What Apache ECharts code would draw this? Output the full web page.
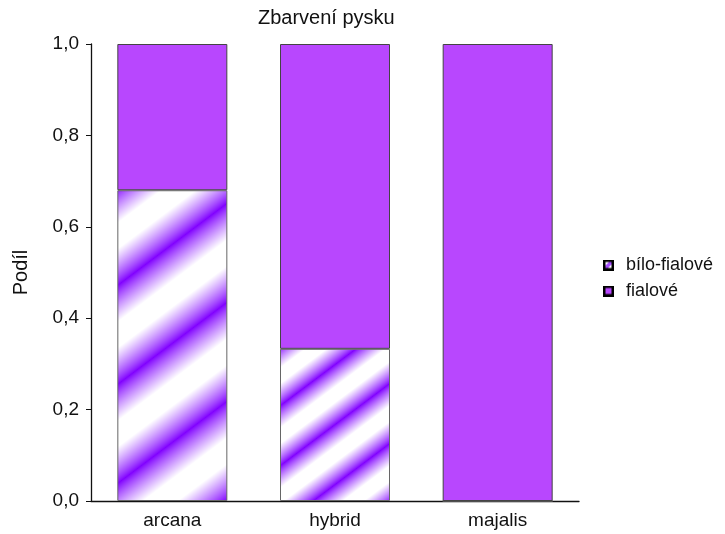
<!DOCTYPE html>
<html>
<head>
<meta charset="utf-8">
<script src="https://cdn.jsdelivr.net/npm/echarts@6/dist/echarts.min.js"></script>
<style>
  html, body { margin: 0; padding: 0; background: #fff; }
  #main { width: 725px; height: 534px; }
</style>
</head>
<body>
<div id="main"></div>
<script>
// data
const categories = ['arcana', 'hybrid', 'majalis'];
const biloFialove = [0.68, 0.333, 0];
const fialove = [0.32, 0.667, 1.0];
const seriesNames = ['bílo-fialové', 'fialové'];

const PURPLE = '#b847fe';
const STRIPE = [128, 0, 255];
const FONT = '"Liberation Sans", Arial, sans-serif';

// diagonal stripe tile, lines 3x + 4y = const, seamless for W = 4*vp/3, H = vp
function stripeTile(vp, c) {
  const w = Math.round(vp * 4 / 3), h = vp, P = 4 * vp;
  const cv = document.createElement('canvas');
  cv.width = w; cv.height = h;
  const ctx = cv.getContext('2d');
  const img = ctx.createImageData(w, h);
  for (let y = 0; y < h; y++) {
    for (let x = 0; x < w; x++) {
      let d = ((3 * x + 4 * y - c) % P + P) % P;
      let dist = Math.min(d, P - d) / P;
      let t = Math.pow(Math.min(1, dist / 0.37), 0.85);
      let k = (y * w + x) * 4;
      img.data[k] = STRIPE[0] + (255 - STRIPE[0]) * t;
      img.data[k + 1] = STRIPE[1] + (255 - STRIPE[1]) * t;
      img.data[k + 2] = 255;
      img.data[k + 3] = 255;
    }
  }
  ctx.putImageData(img, 0, 0);
  return cv;
}

function legendIcon(hatched) {
  const s = 22;
  const cv = document.createElement('canvas');
  cv.width = s; cv.height = s;
  const ctx = cv.getContext('2d');
  if (hatched) {
    ctx.fillStyle = '#fff';
    ctx.fillRect(0, 0, s, s);
    ctx.save();
    ctx.beginPath();
    ctx.rect(0, 0, s, s);
    ctx.clip();
    ctx.strokeStyle = '#a64dff';
    ctx.lineWidth = 7;
    ctx.beginPath();
    ctx.moveTo(0, s); ctx.lineTo(s, 0);
    ctx.stroke();
    ctx.restore();
  } else {
    ctx.fillStyle = PURPLE;
    ctx.fillRect(0, 0, s, s);
  }
  ctx.strokeStyle = '#000';
  ctx.lineWidth = 5;
  ctx.strokeRect(2.5, 2.5, s - 5, s - 5);
  return 'image://' + cv.toDataURL();
}

// per-bar stripe period and phase (arcana is taller, wider stripes)
const stripePeriods = [99, 60, 60];
const stripePhases = [1491, 2460, 0];

const chart = echarts.init(document.getElementById('main'));

const option = {
  animation: false,
  backgroundColor: '#fff',
  textStyle: { fontFamily: FONT },
  title: {
    text: 'Zbarvení pysku',
    left: 258,
    top: 8,
    padding: 0,
    textStyle: { fontFamily: FONT, fontSize: 20, fontWeight: 'normal', color: '#111' }
  },
  legend: {
    orient: 'vertical',
    left: 598,
    top: 251,
    itemWidth: 11,
    itemHeight: 11,
    itemGap: 8,
    textStyle: { fontFamily: FONT, fontSize: 18, color: '#111', padding: [0, 0, 0, 7] },
    data: seriesNames.map((n, i) => ({ name: n, icon: legendIcon(i === 0) }))
  },
  grid: { left: 91, right: 146, top: 44, bottom: 33, containLabel: false },
  xAxis: {
    type: 'category',
    data: categories,
    axisLine: { lineStyle: { color: '#111', width: 1.3 } },
    axisTick: { alignWithLabel: true, length: 5, lineStyle: { color: '#444' } },
    axisLabel: { fontFamily: FONT, fontSize: 19, color: '#111', margin: 10 }
  },
  yAxis: {
    type: 'value',
    min: 0,
    max: 1,
    interval: 0.2,
    name: 'Podíl',
    nameLocation: 'middle',
    nameGap: 60,
    nameTextStyle: { fontFamily: FONT, fontSize: 20, color: '#111' },
    splitLine: { show: false },
    axisLine: { show: true, lineStyle: { color: '#111', width: 1.3 } },
    axisTick: { show: true, length: 5, lineStyle: { color: '#111' } },
    axisLabel: {
      fontFamily: FONT, fontSize: 19, color: '#111', margin: 12,
      formatter: v => v.toFixed(1).replace('.', ',')
    }
  },
  series: [
    {
      name: seriesNames[0],
      type: 'bar',
      stack: 'total',
      barWidth: 110,
      itemStyle: { borderColor: '#666', borderWidth: 1 },
      data: biloFialove.map((v, i) => ({
        value: v,
        itemStyle: { color: { image: stripeTile(stripePeriods[i], stripePhases[i]), repeat: 'repeat' } }
      }))
    },
    {
      name: seriesNames[1],
      type: 'bar',
      stack: 'total',
      barWidth: 110,
      itemStyle: { color: PURPLE, borderColor: '#444', borderWidth: 1 },
      data: fialove
    }
  ]
};

chart.setOption(option);
</script>
</body>
</html>
